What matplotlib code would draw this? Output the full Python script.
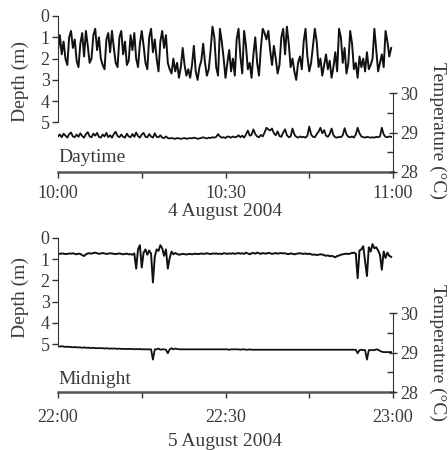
import numpy as np
import matplotlib.pyplot as plt

plt.rcParams['font.family'] = ['Liberation Serif', 'DejaVu Serif']

# samples every 20 s over one hour (minutes after start)
minutes = np.arange(180) / 3.0

day_depth = [
    1.6, 0.9, 1.8, 1.2, 2.0, 2.3, 1.0, 0.7, 1.5, 1.1, 2.1, 2.4,
    1.3, 0.8, 1.9, 0.7, 1.4, 2.2, 2.0, 0.9, 0.6, 1.6, 1.0, 2.0,
    2.3, 2.5, 1.1, 0.8, 1.7, 0.7, 1.5, 2.2, 2.4, 1.0, 0.7, 1.8,
    1.2, 2.3, 2.1, 0.9, 1.6, 0.8, 2.0, 2.4, 1.3, 0.7, 1.4, 2.2,
    2.5, 1.0, 0.6, 1.7, 1.1, 2.0, 2.6, 1.2, 0.7, 1.5, 0.9, 2.2,
    2.5, 2.7, 2.0, 2.6, 2.2, 2.9, 2.4, 1.5, 2.3, 2.8, 2.5, 2.9,
    2.3, 1.4, 2.6, 3.0, 2.4, 2.1, 1.3, 2.2, 2.8, 2.5, 1.6, 0.5,
    1.0, 2.4, 2.8, 0.6, 1.2, 2.0, 2.9, 2.2, 1.6, 2.6, 2.0, 2.8,
    1.1, 0.6, 1.9, 2.7, 0.7, 1.4, 2.5, 2.2, 2.9, 1.8, 1.0, 2.2,
    2.8, 1.5, 0.6, 0.8, 1.1, 0.7, 1.6, 2.3, 1.4, 2.0, 2.7, 2.3,
    1.0, 0.6, 1.8, 0.5, 1.3, 2.4, 2.0, 2.6, 3.0, 2.2, 1.9, 2.5,
    1.2, 0.6, 1.9, 2.6, 2.2, 1.4, 0.6, 1.2, 2.4, 2.0, 2.8, 2.3,
    1.8, 2.5, 2.1, 2.9, 2.4, 1.7, 2.6, 0.6, 1.0, 2.2, 1.5, 2.7,
    2.2, 0.7, 1.3, 2.5, 2.2, 2.9, 1.9, 2.4, 2.0, 2.6, 1.7, 2.5,
    2.3, 2.0, 0.6, 1.6, 2.6, 2.2, 1.8, 2.4, 0.7, 1.2, 1.9, 1.5,
]

day_temp = [
    28.90, 28.95, 28.88, 28.97, 28.92, 28.87, 28.96, 29.00, 28.90, 28.88, 28.95, 28.89,
    28.98, 28.91, 28.87, 28.96, 29.01, 28.90, 28.88, 28.97, 28.92, 28.99, 28.89, 28.87,
    28.95, 28.90, 28.99, 28.88, 28.93, 28.87, 28.96, 29.02, 28.91, 28.88, 28.95, 28.89,
    28.87, 28.97, 28.90, 28.88, 28.96, 28.89, 29.00, 28.91, 28.87, 28.95, 28.99, 28.89,
    28.88, 28.96, 28.90, 28.87, 28.98, 28.89, 28.88, 28.93, 28.87, 28.86, 28.90, 28.86,
    28.85, 28.86, 28.85, 28.84, 28.86, 28.85, 28.84, 28.85, 28.86, 28.84, 28.85, 28.86,
    28.85, 28.87, 28.86, 28.84, 28.85, 28.86, 28.88, 28.86, 28.85, 28.87, 28.86, 28.88,
    28.87, 28.89, 28.96, 28.90, 28.87, 28.88, 28.86, 28.90, 28.89, 28.87, 28.90, 28.88,
    28.89, 28.93, 28.88, 28.92, 28.87, 28.95, 29.05, 28.92, 28.94, 29.08, 28.96, 28.90,
    28.88, 28.94, 28.90, 29.00, 29.12, 29.08, 29.05, 29.10, 28.98, 28.93, 29.03, 28.91,
    28.89, 29.00, 29.08, 28.93, 28.88, 28.90, 29.10, 28.95, 28.89, 28.87, 28.90, 28.88,
    28.89, 28.87, 28.92, 29.15, 28.95, 28.89, 28.88, 28.96, 29.02, 29.12, 28.98, 29.06,
    28.92, 28.89, 28.96, 29.10, 28.93, 28.88, 28.87, 28.89, 28.88, 28.93, 29.11, 28.95,
    28.89, 28.88, 28.90, 28.87, 28.95, 29.12, 28.98, 28.90, 28.88, 28.87, 28.89, 28.88,
    28.87, 28.88, 28.87, 28.89, 28.88, 28.90, 29.12, 28.95, 28.89, 28.88, 28.90, 28.89,
]

night_depth = [
    0.75, 0.76, 0.74, 0.75, 0.77, 0.76, 0.74, 0.75, 0.73, 0.76, 0.78, 0.75,
    0.76, 0.82, 0.86, 0.78, 0.74, 0.73, 0.75, 0.72, 0.70, 0.73, 0.76, 0.74,
    0.72, 0.74, 0.76, 0.75, 0.73, 0.74, 0.76, 0.77, 0.75, 0.74, 0.76, 0.78,
    0.76, 0.75, 0.78, 0.77, 0.80, 0.74, 1.45, 0.55, 0.35, 1.40, 0.70, 0.55,
    0.80, 0.60, 0.75, 2.10, 0.90, 0.55, 0.62, 0.35, 0.50, 0.85, 0.55, 1.45,
    0.95, 0.65, 0.78, 0.72, 0.76, 0.80, 0.78, 0.76, 0.77, 0.79, 0.77, 0.76,
    0.78, 0.76, 0.75, 0.77, 0.76, 0.74, 0.76, 0.75, 0.73, 0.75, 0.77, 0.74,
    0.75, 0.74, 0.76, 0.75, 0.77, 0.73, 0.74, 0.76, 0.74, 0.75, 0.73, 0.76,
    0.74, 0.72, 0.75, 0.73, 0.76, 0.70, 0.74, 0.78, 0.73, 0.72, 0.75, 0.70,
    0.73, 0.76, 0.72, 0.74, 0.75, 0.71, 0.73, 0.76, 0.74, 0.72, 0.75, 0.73,
    0.72, 0.74, 0.73, 0.76, 0.77, 0.74, 0.75, 0.78, 0.76, 0.74, 0.73, 0.75,
    0.76, 0.74, 0.77, 0.75, 0.78, 0.80, 0.79, 0.81, 0.80, 0.78, 0.79, 0.82,
    0.85, 0.83, 0.87, 0.85, 0.88, 0.92, 0.86, 0.84, 0.80, 0.78, 0.76, 0.75,
    0.77, 0.74, 0.72, 0.70, 0.75, 1.90, 0.60, 0.55, 0.40, 1.10, 1.80, 0.45,
    0.65, 0.30, 0.50, 0.45, 0.60, 0.80, 1.50, 0.65, 0.95, 0.70, 0.85, 0.90,
]

night_temp = [
    29.16, 29.15, 29.16, 29.15, 29.14, 29.15, 29.14, 29.14, 29.13, 29.14, 29.13, 29.13,
    29.13, 29.12, 29.13, 29.12, 29.12, 29.12, 29.11, 29.12, 29.11, 29.11, 29.11, 29.11,
    29.11, 29.10, 29.11, 29.10, 29.10, 29.10, 29.10, 29.10, 29.09, 29.10, 29.09, 29.09,
    29.09, 29.09, 29.09, 29.09, 29.09, 29.08, 29.09, 29.08, 29.09, 29.08, 29.08, 29.08,
    29.08, 29.08, 29.08, 28.82, 29.08, 29.08, 29.10, 29.07, 29.08, 29.08, 29.07, 28.98,
    29.08, 29.11, 29.08, 29.10, 29.09, 29.08, 29.08, 29.08, 29.08, 29.08, 29.08, 29.08,
    29.08, 29.08, 29.08, 29.08, 29.08, 29.08, 29.08, 29.08, 29.08, 29.08, 29.08, 29.08,
    29.08, 29.08, 29.08, 29.08, 29.08, 29.08, 29.08, 29.08, 29.07, 29.08, 29.08, 29.08,
    29.08, 29.08, 29.07, 29.08, 29.08, 29.07, 29.07, 29.08, 29.07, 29.07, 29.07, 29.07,
    29.07, 29.07, 29.07, 29.07, 29.07, 29.07, 29.07, 29.07, 29.07, 29.07, 29.07, 29.07,
    29.07, 29.07, 29.07, 29.07, 29.07, 29.07, 29.07, 29.07, 29.07, 29.07, 29.07, 29.07,
    29.07, 29.07, 29.07, 29.07, 29.07, 29.07, 29.07, 29.07, 29.07, 29.07, 29.07, 29.07,
    29.07, 29.07, 29.07, 29.07, 29.07, 29.07, 29.07, 29.07, 29.07, 29.07, 29.07, 29.07,
    29.07, 29.07, 29.07, 29.07, 29.07, 28.98, 29.06, 29.07, 29.06, 29.06, 28.82, 29.06,
    29.06, 29.06, 29.06, 29.08, 29.07, 29.04, 29.02, 29.01, 29.01, 29.01, 29.01, 29.01,
]

day_ticks = ['10:00', '10:30', '11:00']
night_ticks = ['22:00', '22:30', '23:00']

W, H = 448.0, 450.0
TXT = '#3a3a3a'

fig = plt.figure(figsize=(4.48, 4.50), dpi=100)


def panel(top_px, bottom_px, depth, temp, ticks, tag, date, tag_y, lab_y, date_y, tick_y, dlab_y):
    ax = fig.add_axes([58 / W, 1 - bottom_px / H, 335 / W, (bottom_px - top_px) / H])
    ax2 = ax.twinx()
    hpx = bottom_px - top_px
    ax.plot(minutes, depth, color='#111', lw=1.4)
    ax2.plot(minutes, temp, color='#111', lw=1.3)
    ax.set_xlim(0, 60)
    ax.set_ylim(hpx / 21.3, 0)
    ax2.set_ylim(28, 28 + hpx / 39.5)

    for s in ['top', 'right']:
        ax.spines[s].set_visible(False)
    for s in ['top', 'left', 'bottom']:
        ax2.spines[s].set_visible(False)
    ax.spines['left'].set_bounds(0, 5)
    ax.spines['left'].set_color('#333')
    ax.spines['bottom'].set_linewidth(1.8)
    ax.spines['bottom'].set_color('#555')
    ax2.spines['right'].set_bounds(28, 30)
    ax2.spines['right'].set_color('#333')

    ax.set_yticks(range(6))
    ax.tick_params(axis='y', direction='out', length=4, width=1, pad=2,
                   labelsize=13, labelcolor=TXT, color='#333')
    ax2.set_yticks([28, 29, 30])
    ax2.set_yticks([28.5, 29.5], minor=True)
    ax2.tick_params(axis='y', which='major', direction='inout', length=6, width=1,
                    pad=2, labelsize=13, labelcolor=TXT, color='#333')
    ax2.tick_params(axis='y', which='minor', direction='in', length=4, width=1, color='#333')

    ax.set_xticks([0, 30, 60])
    ax.set_xticks([15, 45], minor=True)
    ax.set_xticklabels([])
    ax.tick_params(axis='x', which='both', direction='out', length=4, width=1, color='#333')
    for x, lab in zip([0, 30, 60], ticks):
        fig.text((58 + x * 335 / 60) / W, 1 - tick_y / H, lab, ha='center', va='center',
                 fontsize=13, color=TXT)

    fig.text(20 / W, 1 - dlab_y / H, 'Depth (m)', rotation=90, ha='center', va='center',
             fontsize=14, color=TXT)
    fig.text(438 / W, 1 - lab_y / H, 'Temperature (\u00b0C)', rotation=-90, ha='center',
             va='center', fontsize=14, color=TXT)
    fig.text(58 / W, 1 - tag_y / H, tag, ha='left', va='center', fontsize=14, color=TXT)
    fig.text(225 / W, 1 - date_y / H, date, ha='center', va='center', fontsize=14, color=TXT)


panel(16, 172, day_depth, day_temp, day_ticks, 'Daytime', '4 August 2004',
      157, 130, 211, 194, 82)
panel(237.7, 392, night_depth, night_temp, night_ticks, 'Midnight', '5 August 2004',
      380, 352, 442, 418, 297)

fig.savefig('out.png', dpi=100)
